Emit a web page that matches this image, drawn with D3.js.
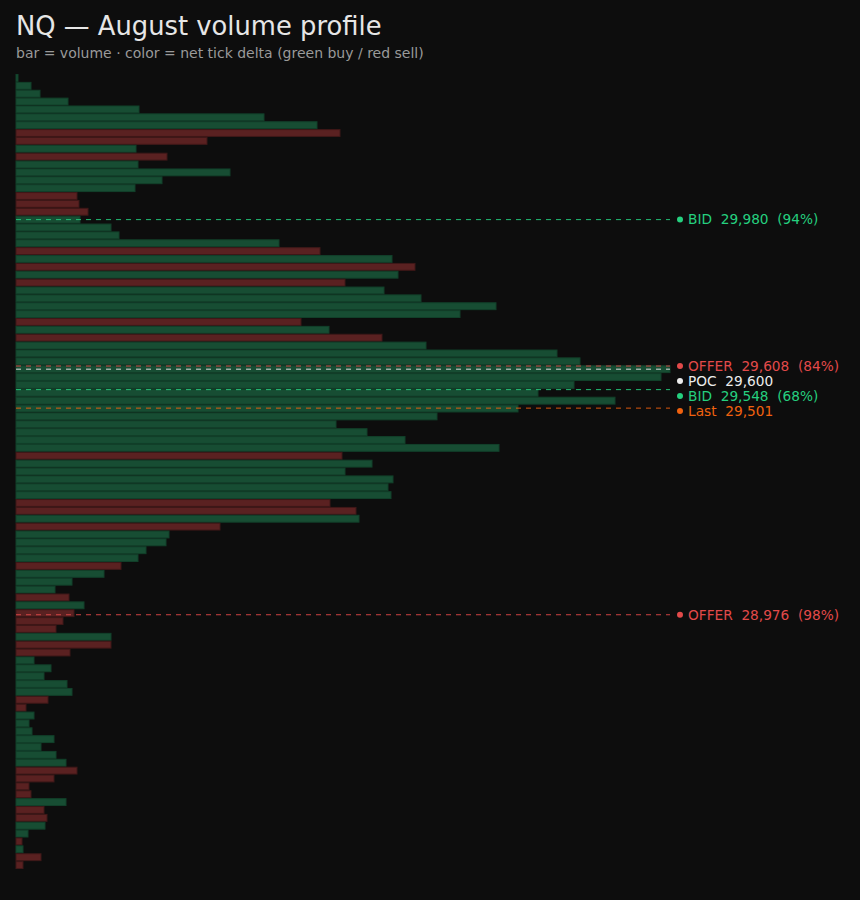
<!DOCTYPE html>
<html>
<head>
<meta charset="utf-8">
<script src="https://cdn.jsdelivr.net/npm/d3@7"></script>
<style>
  html, body { margin: 0; padding: 0; background: #0d0d0d; }
  svg { display: block; }
  text { font-family: "DejaVu Sans", sans-serif; }
</style>
</head>
<body>
<svg id="chart" width="860" height="900"></svg>
<script>
// ---- data ----
const title = "NQ — August volume profile";
const subtitle = "bar = volume · color = net tick delta (green buy / red sell)";
const topPrice = 30340;
const binSize = 20;
const volumes = [20,150,240,520,1230,2480,3010,3240,1910,1200,1510,1220,2140,1460,1190,610,630,720,640,950,
  1030,2630,3040,3760,3990,3820,3290,3680,4050,4800,4440,2850,3130,3660,4100,5410,5640,6540,6450,5580,
  5220,5990,5020,4210,3200,3510,3890,4830,3260,3560,3290,3770,3720,3750,3140,3400,3430,2040,1530,1500,
  1300,1220,1050,880,560,390,530,680,580,470,400,950,950,540,180,350,280,510,560,320,
  100,180,130,160,380,250,400,500,610,380,130,150,500,280,310,290,120,60,70,250,70];
// net tick delta sign per bin: 1 = buy (green), -1 = sell (red)
const deltaSign = [1,1,1,1,1,1,1,-1,-1,1,-1,1,1,1,1,-1,-1,-1,1,1,
  1,1,-1,1,-1,1,-1,1,1,1,1,-1,1,-1,1,1,1,1,1,1,
  1,1,1,1,1,1,1,1,-1,1,1,1,1,1,-1,-1,1,-1,1,1,
  1,1,-1,1,1,1,-1,1,-1,-1,-1,1,-1,-1,1,1,1,1,1,-1,
  -1,1,1,1,1,1,1,1,-1,-1,-1,-1,1,-1,-1,1,1,-1,1,-1,-1];
const levelNames  = ["BID", "OFFER", "POC", "BID", "Last", "OFFER"];
const levelPrices = [29980, 29608, 29600, 29548, 29501, 28976];
const levelPct    = ["94%", "84%", null, "68%", null, "98%"];
const levelColors = ["#25d07f", "#e24a4a", "#ececec", "#25d07f", "#f0620f", "#e24a4a"];

// ---- chart ----
const svg = d3.select("#chart");
svg.append("rect").attr("width", 860).attr("height", 900).attr("fill", "#0d0d0d");

svg.append("text").attr("x", 16).attr("y", 35)
  .attr("fill", "#e6e6e6").attr("font-size", 25.8).text(title);
svg.append("text").attr("x", 16).attr("y", 58)
  .attr("fill", "#9a9a9a").attr("font-size", 14).text(subtitle);

const bins = volumes.map((v, i) => ({ price: topPrice - i * binSize, vol: v, sign: deltaSign[i] }));
const pMax = d3.max(bins, d => d.price), pMin = d3.min(bins, d => d.price);

const y = d3.scaleLinear().domain([pMax + binSize / 2, pMin - binSize / 2]).range([74, 869]);
const x = d3.scaleLinear().domain([0, d3.max(volumes)]).range([16, 670]);
const bh = Math.abs(y(0) - y(binSize));

svg.append("g").selectAll("rect").data(bins).join("rect")
  .attr("x", x(0))
  .attr("y", d => y(d.price) - bh / 2 + 0.5)
  .attr("width", d => Math.max(1.5, x(d.vol) - x(0)))
  .attr("height", bh - 1)
  .attr("fill", d => d.sign > 0 ? "#174d33" : "#5a2121")
  .attr("stroke", d => d.sign > 0 ? "#12402a" : "#3f1818")
  .attr("stroke-width", 1);

// level lines
const levels = levelNames.map((n, i) => ({
  name: n, price: levelPrices[i], pct: levelPct[i], color: levelColors[i], y: y(levelPrices[i])
}));
svg.append("g").selectAll("line").data(levels).join("line")
  .attr("x1", x(0)).attr("x2", x.range()[1])
  .attr("y1", d => d.y).attr("y2", d => d.y)
  .attr("stroke", d => d.color).attr("stroke-width", 1)
  .attr("stroke-dasharray", "5,5").attr("opacity", 0.9);

// label dodge
const sorted = levels.slice().sort((a, b) => a.y - b.y);
let prev = -Infinity;
sorted.forEach(d => { d.ly = Math.max(d.y, prev + 15); prev = d.ly; });

const fmt = d3.format(",");
const lg = svg.append("g").selectAll("g").data(sorted).join("g")
  .attr("transform", d => `translate(0,${d.ly})`);
lg.append("circle").attr("cx", 680).attr("cy", 0).attr("r", 3).attr("fill", d => d.color);
lg.append("text").attr("x", 688).attr("dy", "0.35em")
  .attr("fill", d => d.color).attr("font-size", 13.7)
  .attr("xml:space", "preserve").style("white-space", "pre")
  .text(d => `${d.name}  ${fmt(d.price)}` + (d.pct ? `  (${d.pct})` : ""));
</script>
</body>
</html>
